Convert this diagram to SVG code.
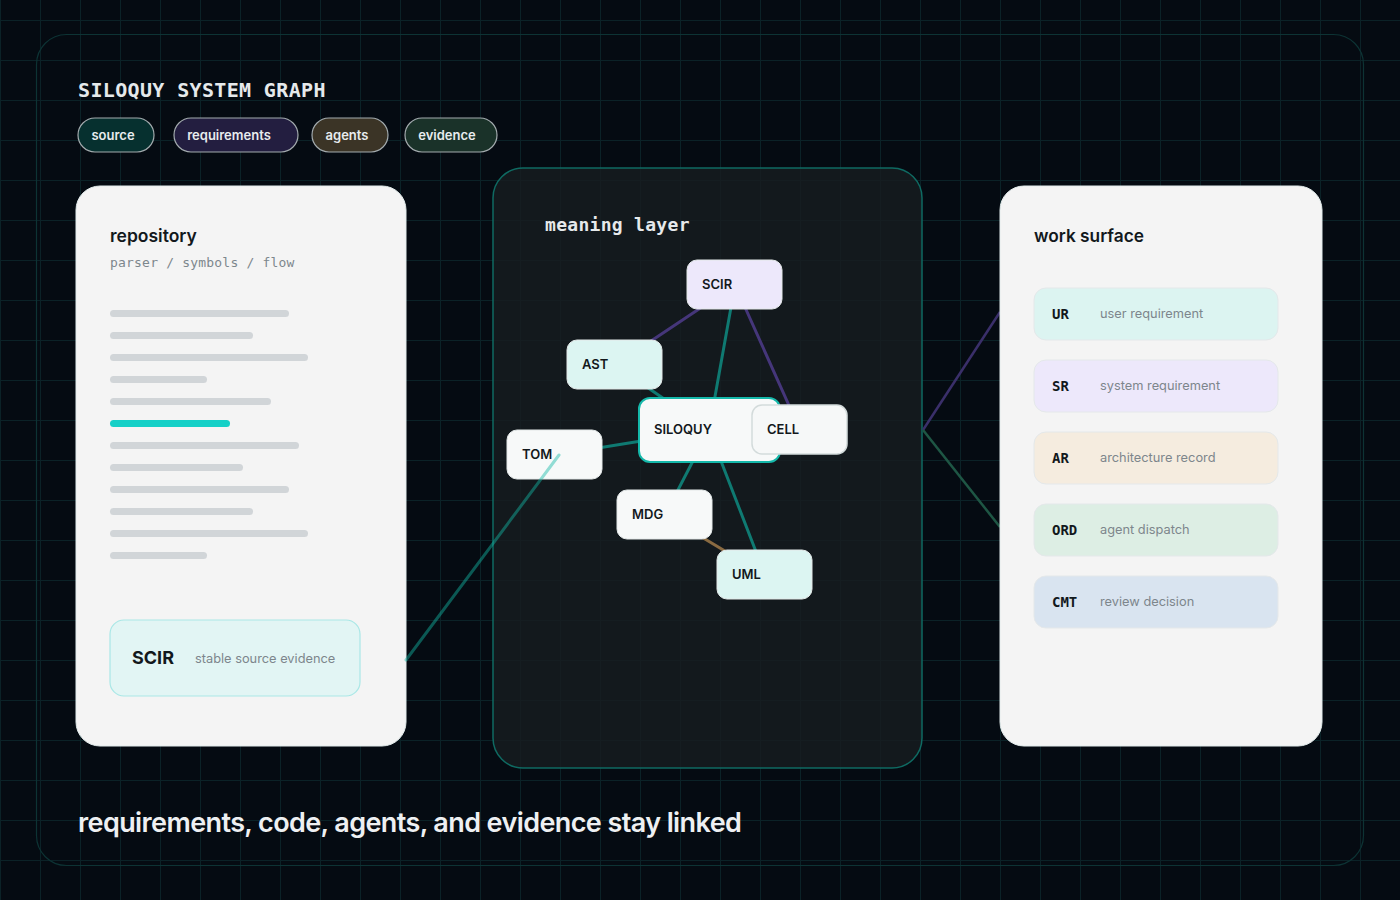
<svg xmlns="http://www.w3.org/2000/svg" width="1400" height="900" viewBox="0 0 1400 900">
<defs>
<pattern id="grid" patternUnits="userSpaceOnUse" x="0" y="20" width="40" height="40">
<rect x="0" y="0" width="40" height="1" fill="#0b2227"/>
<rect x="0" y="0" width="1" height="40" fill="#0b2227"/>
</pattern>
<style>
.mono{font-family:"DejaVu Sans Mono","Liberation Mono",monospace}
.sans{font-family:Inter,"Noto Sans","Liberation Sans",sans-serif}
.pill rect{stroke:#a3abae;stroke-width:1.2}
.pill text{font-family:Inter,"Liberation Sans",sans-serif;font-size:13px;font-weight:600;fill:#e8ecee;text-anchor:middle}
.card{fill:#f8f8f8;fill-opacity:0.985;stroke:#e3ecec;stroke-width:1}
.bar{fill:#d1d5d8}
.node rect{stroke:#e3e8e8;stroke-width:1}
.node text{font-family:Inter,"Liberation Sans",sans-serif;font-size:13px;font-weight:600;fill:#12181c}
.row rect{stroke:#e4e8ea;stroke-width:1}
.row .code{font-family:"DejaVu Sans Mono","Liberation Mono",monospace;font-size:14px;font-weight:700;fill:#12181c}
.row .desc{font-family:Inter,"Liberation Sans",sans-serif;font-size:12.8px;fill:#7d868c}
.e{fill:none;stroke-width:3;stroke-linecap:round}
.teal{stroke:#0f7a72}
.purple{stroke:#45367a}
.brown{stroke:#8a6b42}
</style>
</defs>
<rect width="1400" height="900" fill="#050b12"/>
<rect width="1400" height="900" fill="url(#grid)"/>
<rect x="36.5" y="34.5" width="1327" height="831" rx="30" fill="none" stroke="#0d3334" stroke-width="1.2"/>

<text class="mono" x="78" y="97" font-size="20" font-weight="700" letter-spacing="0.35" fill="#e6e9eb">SILOQUY SYSTEM GRAPH</text>

<g id="legend">
<g class="pill" id="pill-source"><rect x="78" y="118" width="76" height="34" rx="17" fill="#06302f"/><text x="113" y="140">source</text></g>
<g class="pill" id="pill-requirements"><rect x="174" y="118" width="124" height="34" rx="17" fill="#231e40"/><text x="229" y="140">requirements</text></g>
<g class="pill" id="pill-agents"><rect x="312" y="118" width="76" height="34" rx="17" fill="#3b3426"/><text x="347" y="140">agents</text></g>
<g class="pill" id="pill-evidence"><rect x="405" y="118" width="92" height="34" rx="17" fill="#1a3229"/><text x="447" y="140">evidence</text></g>
</g>

<g id="repository">
<rect class="card" x="76" y="186" width="330" height="560" rx="24"/>
<text class="sans" x="110" y="242" font-size="17.5" font-weight="600" fill="#12181c">repository</text>
<text class="mono" x="110" y="267" font-size="13" letter-spacing="0.2" fill="#7d878d">parser / symbols / flow</text>
<rect class="bar" x="110" y="310" width="179" height="7" rx="3.5"/>
<rect class="bar" x="110" y="332" width="143" height="7" rx="3.5"/>
<rect class="bar" x="110" y="354" width="198" height="7" rx="3.5"/>
<rect class="bar" x="110" y="376" width="97" height="7" rx="3.5"/>
<rect class="bar" x="110" y="398" width="161" height="7" rx="3.5"/>
<rect x="110" y="420" width="120" height="7" rx="3.5" fill="#15d0c7"/>
<rect class="bar" x="110" y="442" width="189" height="7" rx="3.5"/>
<rect class="bar" x="110" y="464" width="133" height="7" rx="3.5"/>
<rect class="bar" x="110" y="486" width="179" height="7" rx="3.5"/>
<rect class="bar" x="110" y="508" width="143" height="7" rx="3.5"/>
<rect class="bar" x="110" y="530" width="198" height="7" rx="3.5"/>
<rect class="bar" x="110" y="552" width="97" height="7" rx="3.5"/>
<g id="scir-evidence">
<rect x="110" y="620" width="250" height="76" rx="14" fill="#e2f5f4" stroke="#a9e7e6" stroke-width="1.2"/>
<text class="sans" x="132" y="664" font-size="18" font-weight="700" fill="#12181c">SCIR</text>
<text class="sans" x="195" y="663" font-size="12.8" fill="#7d868c">stable source evidence</text>
</g>
</g>

<g id="meaning-layer">
<rect x="493" y="168" width="429" height="600" rx="30" fill="#171c20" fill-opacity="0.82" stroke="#0f6a62" stroke-width="1.5"/>
<text class="mono" x="545" y="231" font-size="18" font-weight="700" letter-spacing="0.3" fill="#e6e9eb">meaning layer</text>
</g>

<g id="connectors">
<line class="e purple" x1="735" y1="285" x2="615" y2="365"/>
<line class="e teal" x1="735" y1="285" x2="709" y2="430"/>
<line class="e purple" x1="735" y1="285" x2="800" y2="430"/>
<line class="e teal" x1="615" y1="365" x2="709" y2="430"/>
<line class="e teal" x1="555" y1="455" x2="709" y2="430"/>
<line class="e teal" x1="709" y1="430" x2="665" y2="515"/>
<line class="e teal" x1="709" y1="430" x2="765" y2="575"/>
<line class="e brown" x1="665" y1="515" x2="765" y2="575"/>
<line x1="923" y1="430" x2="1000" y2="312" stroke="#3a2f6a" stroke-width="2.5"/>
<line x1="923" y1="430" x2="1000" y2="527" stroke="#1e5644" stroke-width="2.5"/>
</g>

<g id="node-scir" class="node"><rect x="687" y="260" width="95" height="49" rx="10" fill="#ede8fb"/><text x="702" y="289">SCIR</text></g>
<g id="node-ast" class="node"><rect x="567" y="340" width="95" height="49" rx="10" fill="#dcf5f2"/><text x="582" y="369">AST</text></g>
<g id="node-tom" class="node"><rect x="507" y="430" width="95" height="49" rx="10" fill="#f7f9f9"/><text x="522" y="459">TOM</text></g>
<g id="node-siloquy" class="node"><rect x="639" y="398" width="141" height="64" rx="11" fill="#f7f9f9" style="stroke:#14b8aa;stroke-width:2"/><text x="654" y="434">SILOQUY</text></g>
<g id="node-cell" class="node"><rect x="752" y="405" width="95" height="49" rx="10" fill="#f6f8f8" style="stroke:#d3dbdb;stroke-width:1.5"/><text x="767" y="434">CELL</text></g>
<g id="node-mdg" class="node"><rect x="617" y="490" width="95" height="49" rx="10" fill="#f7f9f9"/><text x="632" y="519">MDG</text></g>
<g id="node-uml" class="node"><rect x="717" y="550" width="95" height="49" rx="10" fill="#dcf5f2"/><text x="732" y="579">UML</text></g>

<g id="cross-link">
<line x1="406" y1="660" x2="559" y2="455" stroke="#14b8a6" stroke-opacity="0.45" stroke-width="3" stroke-linecap="round"/>
</g>

<g id="work-surface">
<rect class="card" x="1000" y="186" width="322" height="560" rx="24"/>
<text class="sans" x="1034" y="242" font-size="17.3" font-weight="600" fill="#12181c">work surface</text>
<g class="row" id="row-ur"><rect x="1034" y="288" width="244" height="52" rx="12" fill="#dcf4f1"/><text class="code" x="1052" y="319">UR</text><text class="desc" x="1100" y="318">user requirement</text></g>
<g class="row" id="row-sr"><rect x="1034" y="360" width="244" height="52" rx="12" fill="#ede8fb"/><text class="code" x="1052" y="391">SR</text><text class="desc" x="1100" y="390">system requirement</text></g>
<g class="row" id="row-ar"><rect x="1034" y="432" width="244" height="52" rx="12" fill="#f5ecdf"/><text class="code" x="1052" y="463">AR</text><text class="desc" x="1100" y="462">architecture record</text></g>
<g class="row" id="row-ord"><rect x="1034" y="504" width="244" height="52" rx="12" fill="#ddeee4"/><text class="code" x="1052" y="535">ORD</text><text class="desc" x="1100" y="534">agent dispatch</text></g>
<g class="row" id="row-cmt"><rect x="1034" y="576" width="244" height="52" rx="12" fill="#d9e4f0"/><text class="code" x="1052" y="607">CMT</text><text class="desc" x="1100" y="606">review decision</text></g>
</g>

<text class="sans" x="78" y="832" font-size="27" font-weight="600" letter-spacing="-0.6" fill="#eef0f2">requirements, code, agents, and evidence stay linked</text>
</svg>
